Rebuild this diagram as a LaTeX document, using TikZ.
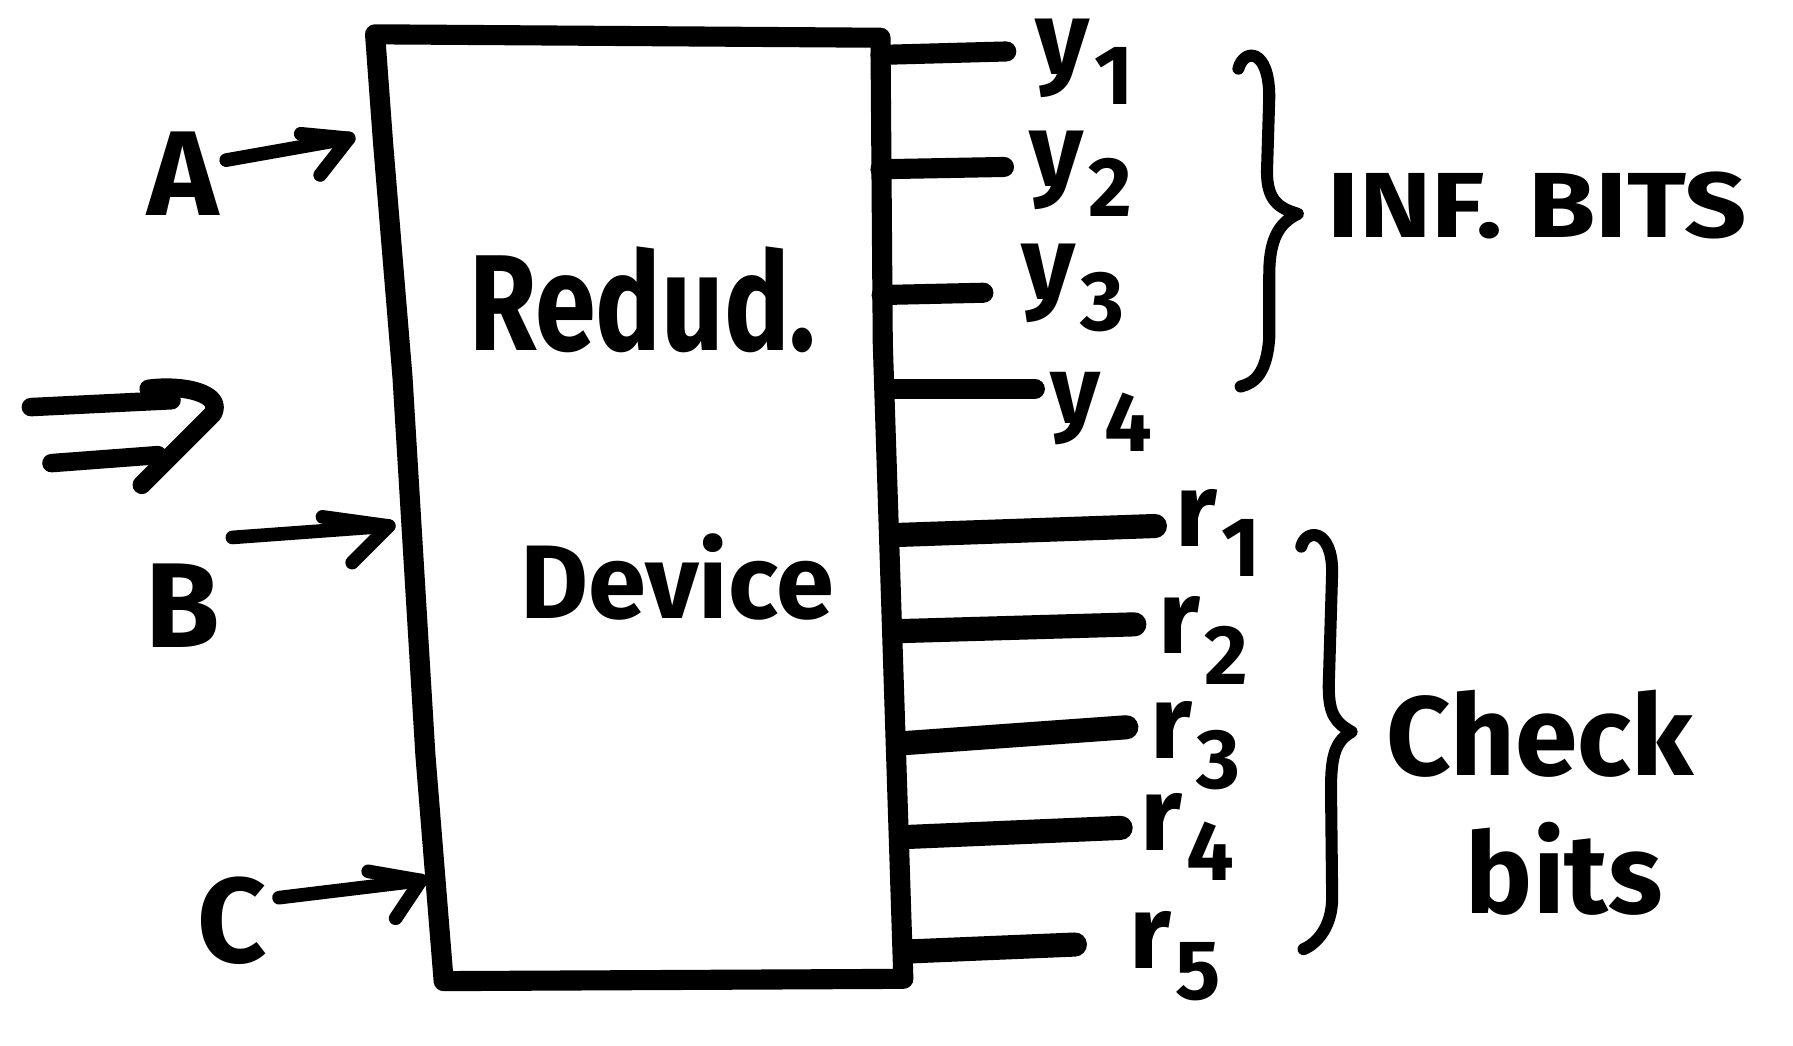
\documentclass[tikz,border=0pt]{standalone}
\usepackage{fontspec}
\setmainfont{Fira Sans}
% letter with a lowered index, written large like the rest of the hand lettering
\newcommand{\hsub}[2]{#1\kern0.04em\raisebox{-0.55ex}{\fontsize{21}{21}\selectfont #2}}
\begin{document}
\begin{tikzpicture}[x=0.01cm,y=-0.01cm,line cap=round,line join=round,
  boxline/.style={line width=5pt},
  ybit/.style={line width=5pt},
  rbit/.style={line width=6pt},
  inarrow/.style={line width=3.4pt},
  dblarrow/.style={line width=4.6pt},
  brace/.style={line width=3pt},
  hand/.style={inner sep=0pt,font=\bfseries\fontsize{26}{28}\selectfont},
  inlabel/.style={hand,font=\bfseries\fontsize{30}{32}\selectfont}]
\useasboundingbox (0,0) rectangle (1568,914);

% ---- the device block (slightly skewed, hand drawn) ----
\draw[boxline] (328,30) -- (770,33) -- (772,300) -- (790,856) -- (388,858)
  -- (372,660) -- (352,330) -- (335,125) -- cycle;
\node[hand,font=\bfseries\fontsize{34}{36}\selectfont] (redud) at (562,262) {\scalebox{0.8}[1]{Redud.}};
\node[hand,font=\bfseries\fontsize{26}{28}\selectfont] (device) at (592,505) {Device};

% ---- inputs ----
\node[inlabel] (A) at (160,152) {A};
\node[inlabel] (B) at (160,530) {B};
\node[inlabel] (C) at (203,805) {C};
\coordinate (ta) at (305,121);
\coordinate (tb) at (340,460);
\coordinate (tc) at (368,770);
\draw[inarrow] (A.east) ++(6,-12) -- (ta);
\draw[inarrow] (263,117) -- (ta) -- (280,153);
\draw[inarrow] (B.east) ++(10,-60) -- (tb);
\draw[inarrow] (282,452) -- (tb) -- (308,492);
\draw[inarrow] (C.east) ++(10,-20) -- (tc);
\draw[inarrow] (322,762) -- (tc) -- (346,803);

% ---- double arrow ----
\draw[dblarrow] (27,356) -- (150,350);
\draw[dblarrow] (45,405) -- (138,398);
\draw[dblarrow] (130,340) .. controls (160,336) and (196,344) .. (186,362) -- (124,424);

% ---- information bits ----
\coordinate (e1) at (770,48);   \coordinate (f1) at (880,45);
\coordinate (e2) at (770,148);  \coordinate (f2) at (878,146);
\coordinate (e3) at (771,258);  \coordinate (f3) at (860,256);
\coordinate (e4) at (775,340);  \coordinate (f4) at (905,340);
\draw[ybit] (e1) -- (f1);
\draw[ybit] (e2) -- (f2);
\draw[ybit] (e3) -- (f3);
\draw[ybit] (e4) -- (f4);
\node[hand,anchor=west] (y1) at (905,54) {\hsub{y}{1}};
\node[hand,anchor=west] (y2) at (900,152) {\hsub{y}{2}};
\node[hand,anchor=west] (y3) at (893,252) {\hsub{y}{3}};
\node[hand,anchor=west,font=\bfseries\fontsize{24}{26}\selectfont] (y4) at (918,360) {\hsub{y}{4}};

% ---- check bits ----
\coordinate (g1) at (780,468);  \coordinate (h1) at (1010,460);
\coordinate (g2) at (784,552);  \coordinate (h2) at (992,546);
\coordinate (g3) at (789,650);  \coordinate (h3) at (985,636);
\coordinate (g4) at (792,732);  \coordinate (h4) at (980,724);
\coordinate (g5) at (796,832);  \coordinate (h5) at (940,826);
\draw[rbit] (g1) -- (h1);
\draw[rbit] (g2) -- (h2);
\draw[rbit] (g3) -- (h3);
\draw[rbit] (g4) -- (h4);
\draw[rbit] (g5) -- (h5);
\node[hand,anchor=west] (r1) at (1027,466) {\hsub{r}{1}};
\node[hand,anchor=west] (r2) at (1012,560) {\hsub{r}{2}};
\node[hand,anchor=west] (r3) at (1005,652) {\hsub{r}{3}};
\node[hand,anchor=west] (r4) at (997,732) {\hsub{r}{4}};
\node[hand,anchor=west] (r5) at (987,836) {\hsub{r}{5}};

% ---- braces and group labels ----
\draw[brace] (1083,60) .. controls (1088,42) and (1110,42) .. (1110,85)
  -- (1108,150) .. controls (1108,175) and (1118,182) .. (1135,187)
  .. controls (1118,195) and (1110,210) .. (1110,240)
  -- (1110,295) .. controls (1108,325) and (1098,335) .. (1085,338);
\node[hand,font=\bfseries\fontsize{23}{25}\selectfont,anchor=west] (inf) at (1160,180) {\scalebox{1.18}[1]{INF. BITS}};

\draw[brace] (1138,478) .. controls (1142,462) and (1165,462) .. (1165,500)
  -- (1162,600) .. controls (1162,625) and (1168,632) .. (1182,640)
  .. controls (1168,648) and (1164,660) .. (1164,690)
  -- (1165,785) .. controls (1165,810) and (1152,825) .. (1140,830);
\node[hand,font=\bfseries\fontsize{28}{30}\selectfont] (check) at (1347,642) {Check};
\node[hand,font=\bfseries\fontsize{28}{30}\selectfont] (bits) at (1368,760) {bits};
\end{tikzpicture}
\end{document}
